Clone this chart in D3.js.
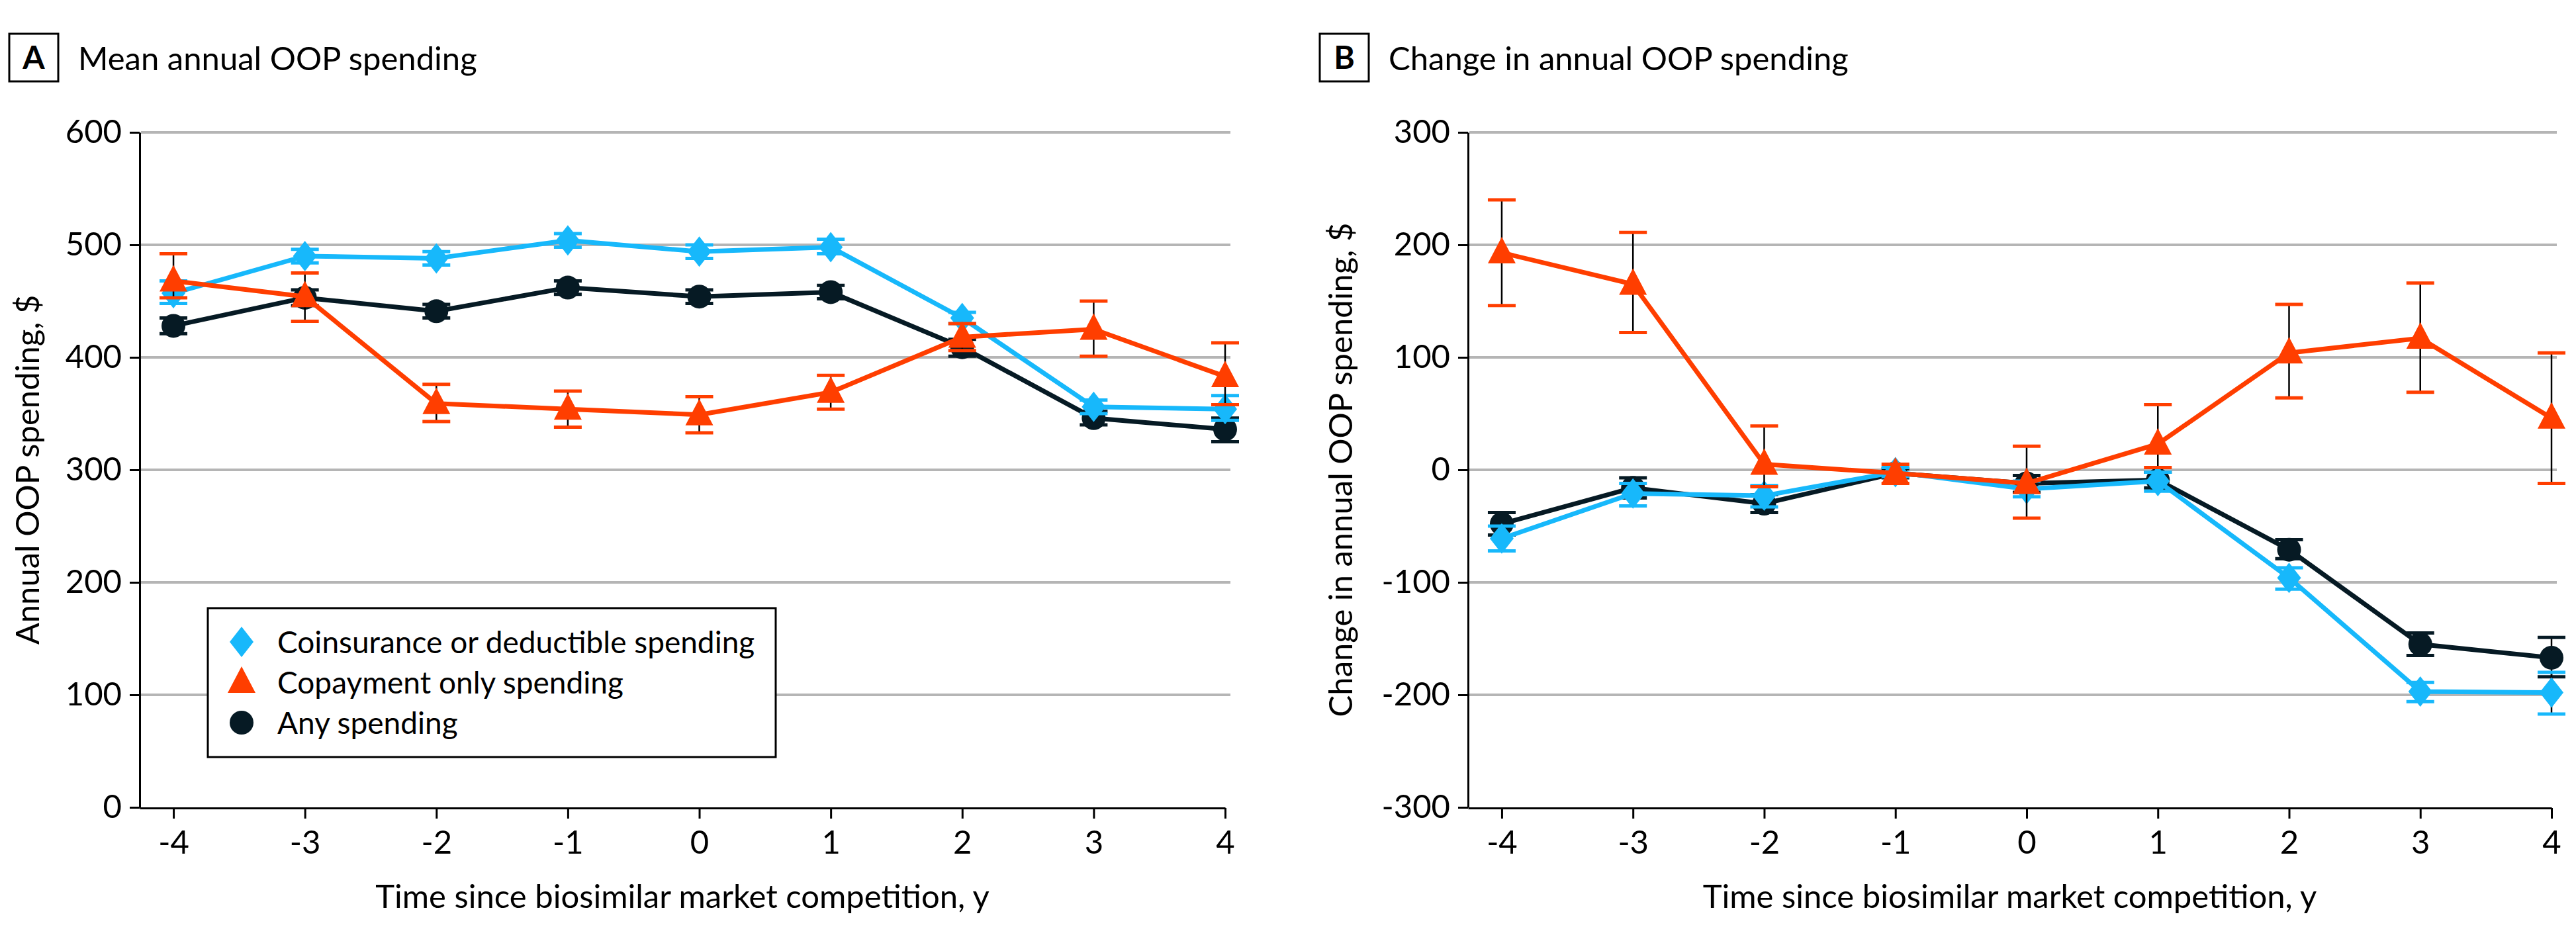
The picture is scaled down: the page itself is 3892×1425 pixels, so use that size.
<!DOCTYPE html>
<html>
<head>
<meta charset="utf-8">
<script src="https://cdn.jsdelivr.net/npm/d3@7"></script>
<style>
  body { margin: 0; background: #fff; }
  svg text { font-family: Lato, "Liberation Sans", Arial, sans-serif; fill: #000; }
</style>
</head>
<body>
<div id="chart"></div>
<script>
// time since biosimilar market competition, y
const years = [-4, -3, -2, -1, 0, 1, 2, 3, 4];

// Panel A: mean annual OOP spending, $
const aCoins   = [457, 490, 488, 504, 494, 498, 435, 356, 354];
const aCoinsLo = [448, 484, 482, 498, 488, 492, 430, 350, 344];
const aCoinsHi = [468, 496, 494, 510, 500, 505, 440, 362, 366];
const aCopay   = [468, 454, 359, 354, 349, 369, 418, 425, 383];
const aCopayLo = [453, 432, 343, 338, 333, 354, 406, 401, 358];
const aCopayHi = [492, 475, 376, 370, 365, 384, 430, 450, 413];
const aAny     = [428, 453, 441, 462, 454, 458, 409, 346, 336];
const aAnyLo   = [421, 446, 435, 456, 448, 452, 401, 340, 325];
const aAnyHi   = [435, 460, 447, 468, 460, 464, 416, 352, 346];

// Panel B: change in annual OOP spending, $
const bCoins   = [-61, -21, -23, -2, -17, -10, -96, -197, -198];
const bCoinsLo = [-72, -32, -33, -6, -24, -19, -106, -206, -217];
const bCoinsHi = [-50, -12, -14, 2, -10, -2, -87, -189, -180];
const bCopay   = [193, 165, 5, -3, -12, 23, 104, 117, 46];
const bCopayLo = [146, 122, -15, -12, -43, 2, 64, 69, -12];
const bCopayHi = [240, 211, 39, 5, 21, 58, 147, 166, 104];
const bAny     = [-48, -16, -30, -3, -12, -9, -71, -155, -167];
const bAnyLo   = [-58, -25, -38, -7, -20, -16, -79, -165, -184];
const bAnyHi   = [-38, -7, -22, 1, -5, -2, -62, -145, -149];

const aTicks = [0, 100, 200, 300, 400, 500, 600];
const bTicks = [-300, -200, -100, 0, 100, 200, 300];

const seriesNames = ["Coinsurance or deductible spending", "Copayment only spending", "Any spending"];
const colors = { coins: "#17b8fb", copay: "#ff3e00", any: "#061a24" };

const W = 3892, H = 1425;
const FS = 49;

const svg = d3.select("#chart").append("svg")
    .attr("width", W)
    .attr("height", H);

// marker shapes
function markerPath(kind) {
    if (kind === "coins") return "M0,-23L18,0L0,23L-18,0Z";
    if (kind === "copay") return "M0,-24L21,16L-21,16Z";
    return d3.arc()({ innerRadius: 0, outerRadius: 18, startAngle: 0, endAngle: 2 * Math.PI });
}

function drawPanel(opt) {
    const x = d3.scaleLinear().domain([-4.257, 4]).range([opt.left, opt.right]);
    const y = d3.scaleLinear().domain(opt.yDomain).range([1220, 200]);

    const g = svg.append("g");

    // gridlines
    g.selectAll(".grid")
        .data(opt.ticks.filter(t => t !== opt.yDomain[0]))
        .enter().append("line")
        .attr("x1", opt.left + 2)
        .attr("x2", x(4) + 8)
        .attr("y1", d => y(d))
        .attr("y2", d => y(d))
        .style("stroke", "#b5b5b5")
        .style("stroke-width", 4);

    // y axis
    const yAxis = g.append("g")
        .attr("transform", `translate(${opt.left},0)`)
        .call(d3.axisLeft(y).tickValues(opt.ticks).tickFormat(d => String(d))
            .tickSize(15).tickSizeOuter(0).tickPadding(12));
    yAxis.selectAll("text").style("font-size", FS + "px");

    // x axis
    const xAxis = g.append("g")
        .attr("transform", "translate(0,1221)")
        .call(d3.axisBottom(x).tickValues(years).tickFormat(d => String(d))
            .tickSize(16).tickSizeOuter(0).tickPadding(18));
    xAxis.selectAll("text").style("font-size", FS + "px");

    [yAxis, xAxis].forEach(a => {
        a.select(".domain").style("stroke", "#000").style("stroke-width", 3);
        a.selectAll(".tick line").style("stroke", "#000").style("stroke-width", 3);
    });

    // axis titles
    g.append("text")
        .attr("transform", `translate(${opt.yLabelX},710) rotate(-90)`)
        .attr("text-anchor", "middle")
        .attr("dy", "0.35em")
        .style("font-size", FS + "px")
        .text(opt.yLabel);

    g.append("text")
        .attr("x", (opt.left + x(4)) / 2)
        .attr("y", 1372)
        .attr("text-anchor", "middle")
        .style("font-size", FS + "px")
        .text("Time since biosimilar market competition, y");

    // panel letter + title
    g.append("rect")
        .attr("x", opt.boxX).attr("y", 51)
        .attr("width", 74).attr("height", 72)
        .style("fill", "none").style("stroke", "#000").style("stroke-width", 3);
    g.append("text")
        .attr("x", opt.boxX + 37).attr("y", 104)
        .attr("text-anchor", "middle")
        .style("font-size", "48px").style("font-weight", "bold")
        .text(opt.letter);
    g.append("text")
        .attr("x", opt.boxX + 104).attr("y", 106)
        .style("font-size", FS + "px")
        .text(opt.title);

    // series
    opt.series.forEach(s => {
        const pts = years.map((yr, i) => ({ yr, v: s.v[i], lo: s.lo[i], hi: s.hi[i] }));
        const sg = g.append("g");

        sg.selectAll(".stem").data(pts).enter().append("line")
            .attr("x1", d => x(d.yr)).attr("x2", d => x(d.yr))
            .attr("y1", d => y(d.lo)).attr("y2", d => y(d.hi))
            .style("stroke", "#000").style("stroke-width", 2.5);

        ["lo", "hi"].forEach(k => {
            sg.selectAll(".cap-" + k).data(pts).enter().append("line")
                .attr("x1", d => x(d.yr) - 21).attr("x2", d => x(d.yr) + 21)
                .attr("y1", d => y(d[k])).attr("y2", d => y(d[k]))
                .style("stroke", colors[s.kind]).style("stroke-width", 5);
        });

        sg.append("path")
            .datum(pts)
            .attr("d", d3.line().x(d => x(d.yr)).y(d => y(d.v)))
            .style("fill", "none")
            .style("stroke", colors[s.kind])
            .style("stroke-width", 7)
            .style("stroke-linejoin", "round");

        sg.selectAll(".mk").data(pts).enter().append("path")
            .attr("transform", d => `translate(${x(d.yr)},${y(d.v)})`)
            .attr("d", markerPath(s.kind))
            .style("fill", colors[s.kind]);
    });

    return g;
}

drawPanel({
    left: 211, right: 1851, yDomain: [0, 600], ticks: aTicks,
    yLabelX: 42, yLabel: "Annual OOP spending, $",
    boxX: 14, letter: "A", title: "Mean annual OOP spending",
    series: [
        { kind: "any", v: aAny, lo: aAnyLo, hi: aAnyHi },
        { kind: "coins", v: aCoins, lo: aCoinsLo, hi: aCoinsHi },
        { kind: "copay", v: aCopay, lo: aCopayLo, hi: aCopayHi }
    ]
});

drawPanel({
    left: 2218, right: 3855, yDomain: [-300, 300], ticks: bTicks,
    yLabelX: 2026, yLabel: "Change in annual OOP spending, $",
    boxX: 1994, letter: "B", title: "Change in annual OOP spending",
    series: [
        { kind: "any", v: bAny, lo: bAnyLo, hi: bAnyHi },
        { kind: "coins", v: bCoins, lo: bCoinsLo, hi: bCoinsHi },
        { kind: "copay", v: bCopay, lo: bCopayLo, hi: bCopayHi }
    ]
});

// legend (panel A)
const legend = svg.append("g").attr("transform", "translate(314,919)");
legend.append("rect")
    .attr("width", 858).attr("height", 225)
    .style("fill", "#fff").style("stroke", "#000").style("stroke-width", 3);
const kinds = ["coins", "copay", "any"];
const items = legend.selectAll(".legend-item")
    .data(seriesNames)
    .enter().append("g")
    .attr("transform", (d, i) => `translate(51,${51 + i * 61})`);
items.append("path")
    .attr("d", (d, i) => markerPath(kinds[i]))
    .style("fill", (d, i) => colors[kinds[i]]);
items.append("text")
    .attr("x", 54)
    .attr("y", 17)
    .style("font-size", "46px")
    .text(d => d);
</script>
</body>
</html>
